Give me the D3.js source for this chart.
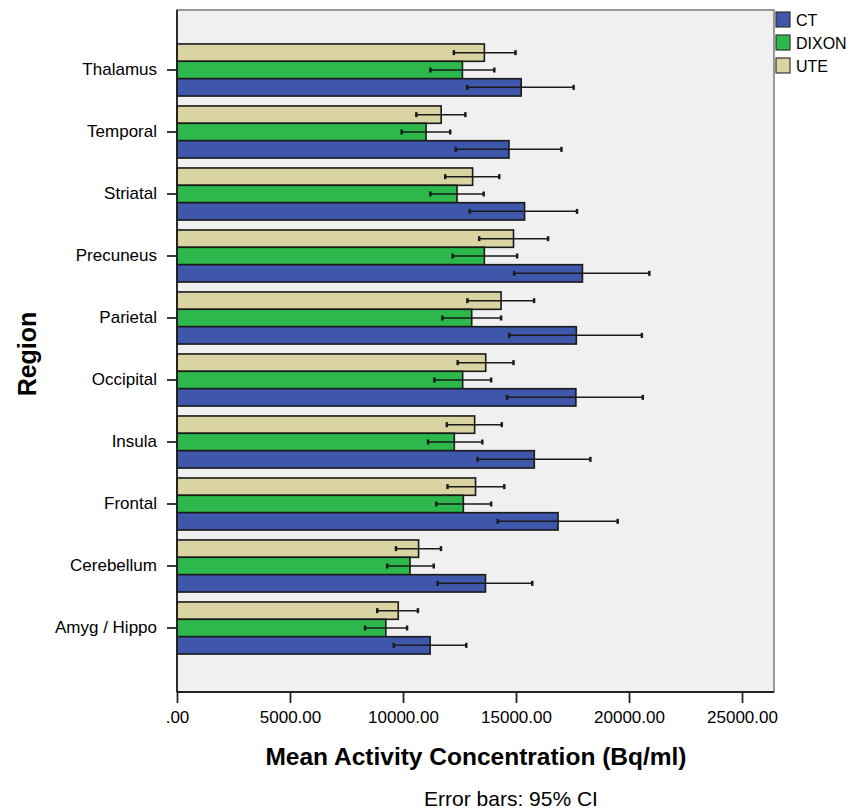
<!DOCTYPE html>
<html>
<head>
<meta charset="utf-8">
<script src="https://cdn.jsdelivr.net/npm/d3@7"></script>
<style>
  body { margin: 0; background: #fff; }
  svg text { font-family: "Liberation Sans", Arial, sans-serif; fill: #000; }
</style>
</head>
<body>
<div id="chart"></div>
<script>
(function() {
    var width = 861, height = 812;

    // regions top to bottom
    var regions = ["Thalamus", "Temporal", "Striatal", "Precuneus", "Parietal",
                   "Occipital", "Insula", "Frontal", "Cerebellum", "Amyg / Hippo"];
    var series = ["UTE", "DIXON", "CT"];   // order inside a group, top to bottom
    var legendOrder = ["CT", "DIXON", "UTE"];

    // means
    var ctMean    = [15230, 14690, 15380, 17940, 17670, 17650, 15810, 16860, 13650, 11200];
    var dixonMean = [12630, 11020, 12390, 13600, 13040, 12640, 12270, 12670, 10310, 9240];
    var uteMean   = [13600, 11690, 13080, 14890, 14340, 13660, 13170, 13210, 10690, 9790];

    // 95% CI lower / upper
    var ctLo    = [12840, 12330, 12950, 14920, 14700, 14600, 13300, 14190, 11530, 9590];
    var ctHi    = [17550, 17010, 17700, 20900, 20570, 20610, 18290, 19500, 15720, 12800];
    var dixonLo = [11210, 9940, 11210, 12200, 11740, 11390, 11110, 11470, 9300, 8320];
    var dixonHi = [14040, 12090, 13570, 15050, 14340, 13900, 13510, 13900, 11360, 10180];
    var uteLo   = [12250, 10590, 11870, 13370, 12850, 12420, 11940, 11970, 9690, 8860];
    var uteHi   = [14980, 12760, 14260, 16420, 15800, 14890, 14370, 14480, 11680, 10660];

    var xTicks = [0, 5000, 10000, 15000, 20000, 25000];

    var colors = { CT: "#3e57ab", DIXON: "#2db84b", UTE: "#d9d4a1" };
    var means = { CT: ctMean, DIXON: dixonMean, UTE: uteMean };
    var los = { CT: ctLo, DIXON: dixonLo, UTE: uteLo };
    var his = { CT: ctHi, DIXON: dixonHi, UTE: uteHi };

    var plot = { left: 177, right: 774, top: 10, bottom: 692 };

    var svg = d3.select("#chart")
    .append("svg")
    .attr("width", width)
    .attr("height", height);

    var x = d3.scaleLinear()
    .domain([0, 25000])
    .range([plot.left, 742]);

    var y = d3.scaleBand()
    .domain(regions)
    .range([39, 659])
    .paddingInner(0.16)
    .paddingOuter(0.08);

    var ySub = d3.scaleBand()
    .domain(series)
    .range([0, y.bandwidth()]);

    // plot background
    svg.append("rect")
    .attr("x", plot.left)
    .attr("y", plot.top)
    .attr("width", plot.right - plot.left)
    .attr("height", plot.bottom - plot.top)
    .attr("fill", "#f0f0f0")
    .attr("stroke", "#7a7a7a")
    .attr("stroke-width", 1.5);

    // build rows
    var rows = [];
    regions.forEach(function(r, i) {
        series.forEach(function(s) {
            rows.push({ region: r, series: s, mean: means[s][i], lo: los[s][i], hi: his[s][i] });
        });
    });

    var bars = svg.selectAll(".bar")
    .data(rows)
    .enter().append("g")
    .attr("class", "bar")
    .attr("transform", function(d) {
        return "translate(0," + (y(d.region) + ySub(d.series)) + ")";
    });

    bars.append("rect")
    .attr("x", x(0))
    .attr("y", 0)
    .attr("width", function(d) { return x(d.mean) - x(0); })
    .attr("height", ySub.bandwidth())
    .attr("fill", function(d) { return colors[d.series]; })
    .attr("stroke", "#1a1a1a")
    .attr("stroke-width", 1.6);

    //error bars
    bars.append("line")
    .attr("x1", function(d) { return x(d.lo); })
    .attr("x2", function(d) { return x(d.hi); })
    .attr("y1", ySub.bandwidth() / 2)
    .attr("y2", ySub.bandwidth() / 2)
    .attr("stroke", "#1a1a1a")
    .attr("stroke-width", 1.5);

    bars.selectAll(".cap")
    .data(function(d) { return [d.lo, d.hi]; })
    .enter().append("line")
    .attr("class", "cap")
    .attr("x1", function(v) { return x(v); })
    .attr("x2", function(v) { return x(v); })
    .attr("y1", ySub.bandwidth() / 2 - 2.5)
    .attr("y2", ySub.bandwidth() / 2 + 2.5)
    .attr("stroke", "#1a1a1a")
    .attr("stroke-width", 2.5);

    // x axis
    var xAxis = svg.append("g")
    .attr("transform", "translate(0," + plot.bottom + ")")
    .call(d3.axisBottom(x)
        .tickValues(xTicks)
        .tickSize(11)
        .tickPadding(8)
        .tickFormat(function(v) { return v === 0 ? ".00" : d3.format(".2f")(v); }));

    xAxis.select(".domain")
    .attr("d", "M" + plot.left + ",0H" + plot.right)
    .attr("stroke", "#222")
    .attr("stroke-width", 1.8);
    xAxis.selectAll(".tick line").attr("stroke", "#222").attr("stroke-width", 1.8);
    xAxis.selectAll(".tick text")
    .attr("font-size", 17)
    .attr("fill", "#000");

    // y axis
    var yAxis = svg.append("g")
    .attr("transform", "translate(" + plot.left + ",0)")
    .call(d3.axisLeft(y)
        .tickSize(10)
        .tickPadding(10)
        .offset(0));

    yAxis.selectAll(".tick")
    .attr("transform", function(d) {
        return "translate(0," + (y(d) + ySub("DIXON") + ySub.bandwidth() / 2) + ")";
    });
    yAxis.select(".domain")
    .attr("d", "M0," + plot.top + "V" + plot.bottom)
    .attr("stroke", "#222")
    .attr("stroke-width", 1.8);
    yAxis.selectAll(".tick line").attr("stroke", "#222").attr("stroke-width", 1.8);
    yAxis.selectAll(".tick text")
    .attr("font-size", 17)
    .attr("fill", "#000");

    // titles
    svg.append("text")
    .attr("x", 476)
    .attr("y", 765)
    .attr("text-anchor", "middle")
    .attr("font-size", 24.5)
    .attr("font-weight", "bold")
    .text("Mean Activity Concentration (Bq/ml)");

    svg.append("text")
    .attr("transform", "translate(36,354) rotate(-90)")
    .attr("text-anchor", "middle")
    .attr("font-size", 25)
    .attr("font-weight", "bold")
    .text("Region");

    svg.append("text")
    .attr("x", 511)
    .attr("y", 806)
    .attr("text-anchor", "middle")
    .attr("font-size", 21)
    .text("Error bars: 95% CI");

    // legend
    var legend = svg.selectAll(".legend")
    .data(legendOrder)
    .enter().append("g")
    .attr("class", "legend")
    .attr("transform", function(d, i) { return "translate(776," + (12 + i * 23) + ")"; });

    legend.append("rect")
    .attr("width", 14)
    .attr("height", 15)
    .attr("fill", function(d) { return colors[d]; })
    .attr("stroke", "#333")
    .attr("stroke-width", 1.2);

    legend.append("text")
    .attr("x", 20)
    .attr("y", 14)
    .attr("font-size", 16)
    .text(function(d) { return d; });
})();
</script>
</body>
</html>
